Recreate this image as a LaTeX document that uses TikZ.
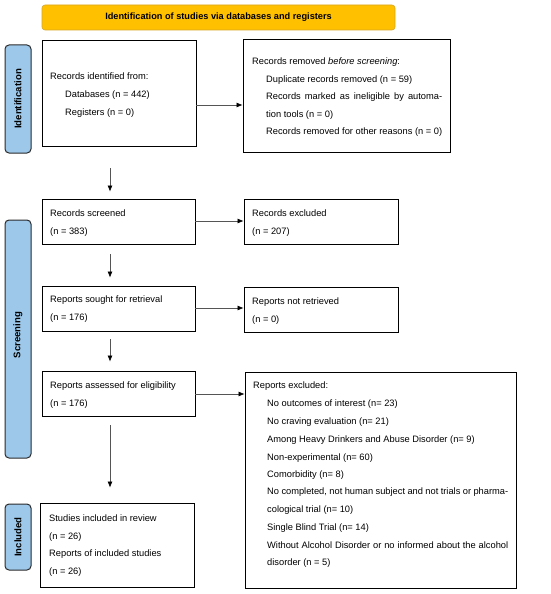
\documentclass[tikz,border=0pt]{standalone}
\usepackage{fontspec}
\setmainfont{Liberation Sans}
\usetikzlibrary{arrows.meta}
\definecolor{bannerfill}{HTML}{FFC000}
\definecolor{bannerdraw}{HTML}{D9A520}
\definecolor{sidefill}{HTML}{9DC8EA}
\definecolor{sidedraw}{HTML}{2B2B2B}
\definecolor{arrgray}{HTML}{555555}
\tikzset{
  box/.style={draw=black, line width=0.9pt, fill=white, rectangle, inner sep=0pt},
  banner/.style={draw=bannerdraw, line width=0.6pt, fill=bannerfill, rounded corners=3pt, inner sep=0pt,
    font=\bfseries\fontsize{9.2}{11}\selectfont},
  side/.style={draw=sidedraw, line width=1pt, fill=sidefill, rounded corners=4pt, inner sep=0pt},
  sidetxt/.style={rotate=90, font=\bfseries\fontsize{9.6}{11}\selectfont, inner sep=0pt},
  txt/.style={anchor=base west, inner sep=0pt, font=\fontsize{9.3}{11}\selectfont},
  arr/.style={draw=arrgray, line width=0.6pt, -{Latex[length=6pt,width=5pt,black]}},
}
\begin{document}
\begin{tikzpicture}[x=1pt,y=-1pt]
\useasboundingbox (0,0) rectangle (550,594);
% banner
\node[banner, minimum width=353pt, minimum height=25pt] (ban) at (218.5,17.5) {Identification of studies via databases and registers};
% side labels
\node[side, minimum width=26pt, minimum height=108pt] (sid) at (18,99) {};
\node[sidetxt] (sidt) at (sid.center) {Identification};
\node[side, minimum width=26pt, minimum height=238pt] (ssc) at (18,339) {};
\node[sidetxt] (ssct) at ([yshift=4pt]ssc.center) {Screening};
\node[side, minimum width=26pt, minimum height=66pt] (sinc) at (18,537) {};
\node[sidetxt] (sinct) at (sinc.center) {Included};
% boxes
\node[box, minimum width=154pt, minimum height=106pt] (rid) at (119,93) {};
\node[box, minimum width=207pt, minimum height=113pt] (rem) at (346.5,95.5) {};
\node[box, minimum width=153pt, minimum height=45pt] (scr) at (118.5,221.5) {};
\node[box, minimum width=154pt, minimum height=45pt] (exc) at (321,221.5) {};
\node[box, minimum width=153pt, minimum height=45pt] (sou) at (118.5,308.5) {};
\node[box, minimum width=154pt, minimum height=45pt] (nre) at (321,309.5) {};
\node[box, minimum width=153pt, minimum height=45pt] (ass) at (118.5,393.5) {};
\node[box, minimum width=271pt, minimum height=216pt] (rex) at (380.5,480) {};
\node[box, minimum width=154pt, minimum height=84pt] (inc) at (117,545) {};
% texts
\node[txt] (t1) at (50,80) {Records identified from:};
\node[txt] (t2) at (65,97) {Databases (n = 442)};
\node[txt] (t3) at (65,115) {Registers (n = 0)};
\node[txt] (u1) at (252,64) {Records removed \textit{before screening}:};
\node[txt] (u2) at (266,82) {Duplicate records removed (n = 59)};
\node[txt] (u3) at (266,99) {\makebox[176pt][s]{Records marked as ineligible by automa-}};
\node[txt] (u4) at (266,117) {tion tools (n = 0)};
\node[txt] (u5) at (266,134) {Records removed for other reasons (n = 0)};
\node[txt] (s1) at (50,216) {Records screened};
\node[txt] (s2) at (50,234) {(n = 383)};
\node[txt] (e1) at (252,216) {Records excluded};
\node[txt] (e2) at (252,234) {(n = 207)};
\node[txt] (r1) at (50,302) {Reports sought for retrieval};
\node[txt] (r2) at (50,320) {(n = 176)};
\node[txt] (n1) at (252,304) {Reports not retrieved};
\node[txt] (n2) at (252,322) {(n = 0)};
\node[txt] (a1) at (50,388) {Reports assessed for eligibility};
\node[txt] (a2) at (50,406) {(n = 176)};
\node[txt] (x0) at (253,388) {Reports excluded:};
\node[txt] (x1) at (267,406) {No outcomes of interest (n= 23)};
\node[txt] (x2) at (267,424) {No craving evaluation (n= 21)};
\node[txt] (x3) at (267,442) {Among Heavy Drinkers and Abuse Disorder (n= 9)};
\node[txt] (x4) at (267,460) {Non-experimental (n= 60)};
\node[txt] (x5) at (267,477) {Comorbidity (n= 8)};
\node[txt] (x6) at (267,494) {\makebox[241pt][s]{No completed, not human subject and not trials or pharma-}};
\node[txt] (x7) at (267,512) {cological trial (n= 10)};
\node[txt] (x8) at (267,530) {Single Blind Trial (n= 14)};
\node[txt] (x9) at (267,548) {\makebox[241pt][s]{Without Alcohol Disorder or no informed about the alcohol}};
\node[txt] (x10) at (267,565) {disorder (n = 5)};
\node[txt] (i1) at (49,521) {Studies included in review};
\node[txt] (i2) at (49,539) {(n = 26)};
\node[txt] (i3) at (49,556) {Reports of included studies};
\node[txt] (i4) at (49,574) {(n = 26)};
% horizontal arrows
\draw[arr] ([yshift=-12pt]rid.east) -- ([yshift=-12pt]rid.east -| rem.west);
\draw[arr] ([yshift=0.5pt]scr.east) -- ([yshift=0.5pt]scr.east -| exc.west);
\draw[arr] ([yshift=0.5pt]sou.east) -- ([yshift=0.5pt]sou.east -| nre.west);
\draw[arr] ([yshift=-0.5pt]ass.east) -- ([yshift=-0.5pt]ass.east -| rex.west);
% vertical arrows
\draw[arr, shorten <=22pt, shorten >=7pt] ([xshift=-9pt]rid.south) -- ([xshift=-9pt]rid.south |- scr.north);
\draw[arr, shorten <=10pt, shorten >=8pt] ([xshift=-8.5pt]scr.south) -- ([xshift=-8.5pt]scr.south |- sou.north);
\draw[arr, shorten <=8pt, shorten >=9pt] ([xshift=-8.5pt]sou.south) -- ([xshift=-8.5pt]sou.south |- ass.north);
\draw[arr, shorten <=9pt, shorten >=15pt] ([xshift=-8.5pt]ass.south) -- ([xshift=-8.5pt]ass.south |- inc.north);
\end{tikzpicture}
\end{document}
